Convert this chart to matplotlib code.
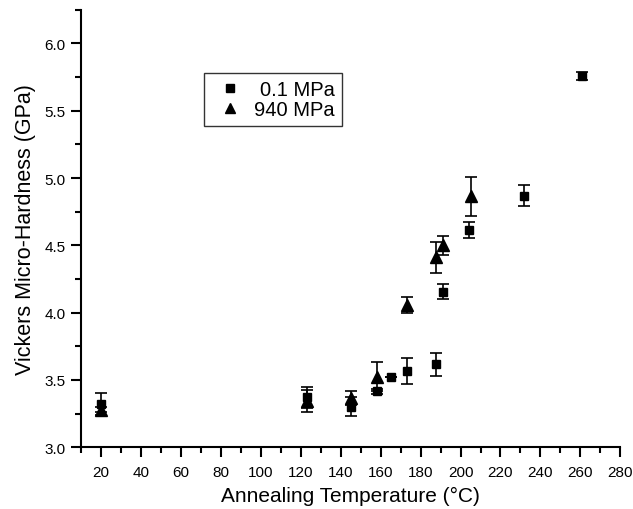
import matplotlib
matplotlib.use("Agg")
import matplotlib.pyplot as plt
from matplotlib.ticker import MultipleLocator, FormatStrFormatter


# 0.1 MPa series (squares)
TEMP_LOW = [20, 123, 145, 158, 165, 173, 187.5, 191, 204, 232, 261]
HARD_LOW = [3.32, 3.37, 3.30, 3.415, 3.525, 3.565, 3.615, 4.155, 4.615, 4.87, 5.755]
ERR_LOW = [0.08, 0.08, 0.07, 0.02, 0.0, 0.095, 0.085, 0.055, 0.06, 0.08, 0.03]

# 940 MPa series (triangles)
TEMP_HIGH = [20, 123, 145, 158, 173, 187.5, 191, 205]
HARD_HIGH = [3.28, 3.345, 3.365, 3.525, 4.055, 4.41, 4.50, 4.865]
ERR_HIGH = [0.02, 0.08, 0.05, 0.11, 0.06, 0.115, 0.07, 0.145]

LABELS = ["0.1 MPa", "940 MPa"]

plt.rcParams["font.family"] = ["Liberation Sans", "DejaVu Sans"]

fig = plt.figure(figsize=(6.33, 5.10), dpi=100)
ax = fig.add_axes([0.128, 0.121, 0.852, 0.858])

err_low = ax.errorbar(
    TEMP_LOW, HARD_LOW, yerr=ERR_LOW,
    fmt="s", color="black", markersize=6,
    elinewidth=1.2, capsize=4, capthick=1.2,
)
err_high = ax.errorbar(
    TEMP_HIGH, HARD_HIGH, yerr=ERR_HIGH,
    fmt="^", color="black", markersize=8,
    elinewidth=1.2, capsize=4, capthick=1.2,
)

ax.set_xlim(10, 280)
ax.set_ylim(3.0, 6.25)

ax.set_xticks(range(20, 281, 20))
ax.xaxis.set_minor_locator(MultipleLocator(10))
ax.yaxis.set_major_locator(MultipleLocator(0.5))
ax.yaxis.set_minor_locator(MultipleLocator(0.25))
ax.yaxis.set_major_formatter(FormatStrFormatter("%.1f"))

for side in ["top", "right"]:
    ax.spines[side].set_visible(False)
for side in ["left", "bottom"]:
    ax.spines[side].set_linewidth(1.5)

ax.tick_params(which="major", direction="out", length=7, width=1.5,
               labelsize=11, colors="black")
ax.tick_params(which="minor", direction="out", length=4.5, width=1.5)
ax.tick_params(axis="x", pad=6)
ax.tick_params(axis="y", pad=4)

ax.set_xlabel("Annealing Temperature (°C)", fontsize=15, labelpad=5)
ax.set_ylabel("Vickers Micro-Hardness (GPa)", fontsize=15.5, labelpad=6)

leg = ax.legend(
    [err_low[0], err_high[0]], LABELS,
    loc="upper left", bbox_to_anchor=(0.228, 0.855), borderaxespad=0,
    fontsize=14.5, frameon=True, fancybox=False,
    edgecolor="black", handlelength=1.85, handletextpad=0.3,
    borderpad=0.35, labelspacing=0.05, markerscale=0.9,
)
leg.get_frame().set_linewidth(1.0)

# right-align the legend texts like the original
fig.canvas.draw()
texts = leg.get_texts()
widths = [t.get_window_extent().width for t in texts]
for t, w in zip(texts, widths):
    t.set_x(max(widths) - w)

fig.savefig("out.png", dpi=100)
